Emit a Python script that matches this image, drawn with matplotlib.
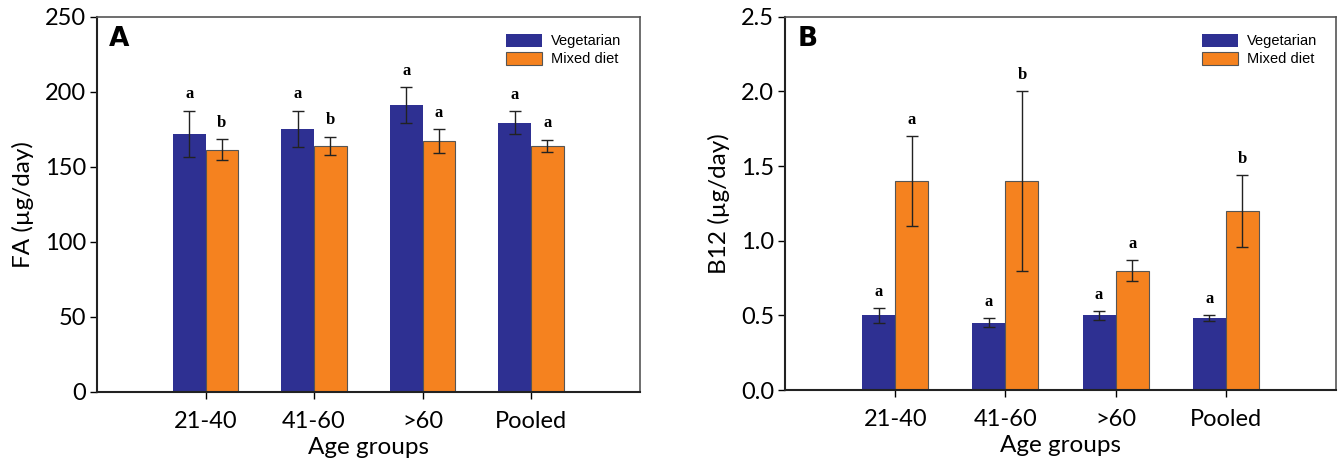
import matplotlib.pyplot as plt
import numpy as np

# Daten
groups = ['21-40', '41-60', '>60', 'Pooled']
labels = ['Vegetarian', 'Mixed diet']

fa_veg = [172, 175.5, 191, 179.5]
fa_veg_err = [15.5, 12, 12, 7.5]
fa_mix = [161.5, 164, 167, 164]
fa_mix_err = [7, 6, 8, 4]
fa_veg_letters = ['a', 'a', 'a', 'a']
fa_mix_letters = ['b', 'b', 'a', 'a']

b12_veg = [0.50, 0.45, 0.50, 0.48]
b12_veg_err = [0.05, 0.03, 0.03, 0.02]
b12_mix = [1.40, 1.40, 0.80, 1.20]
b12_mix_err = [0.30, 0.60, 0.07, 0.24]
b12_veg_letters = ['a', 'a', 'a', 'a']
b12_mix_letters = ['a', 'b', 'a', 'b']

blue = '#2e3092'
orange = '#f5821f'
tick_font = 'Lato'


def panel(ax, veg, veg_err, mix, mix_err, veg_let, mix_let, ylim, yticks, ylabel, tag):
    x = np.arange(len(groups))
    w = 0.3
    ekw = dict(ecolor='#222222', elinewidth=1.0, capsize=4.5, capthick=1.0)
    ax.bar(x - w / 2, veg, w, yerr=veg_err, color=blue, label=labels[0],
           error_kw=ekw, zorder=2)
    ax.bar(x + w / 2, mix, w, yerr=mix_err, color=orange, edgecolor='#555555',
           linewidth=0.8, label=labels[1], error_kw=ekw, zorder=2)
    for xi, v, e, t in zip(x - w / 2, veg, veg_err, veg_let):
        ax.annotate(t, (xi, v + e), xytext=(0, 6), textcoords='offset points',
                    ha='center', va='bottom', fontsize=12, fontweight='bold',
                    family='Liberation Serif')
    for xi, v, e, t in zip(x + w / 2, mix, mix_err, mix_let):
        ax.annotate(t, (xi, v + e), xytext=(0, 6), textcoords='offset points',
                    ha='center', va='bottom', fontsize=12, fontweight='bold',
                    family='Liberation Serif')
    ax.set_xlim(-1, 4)
    ax.set_ylim(*ylim)
    ax.set_yticks(yticks)
    ax.set_xticks(x)
    ax.set_xticklabels(groups)
    for lab in ax.get_xticklabels() + ax.get_yticklabels():
        lab.set_fontfamily(tick_font)
        lab.set_fontsize(17)
    ax.tick_params(axis='both', direction='out', length=5, width=1, pad=3)
    ax.tick_params(axis='x', pad=9)
    ax.set_xlabel('Age groups', fontsize=17.5, family=tick_font, labelpad=3)
    ax.set_ylabel(ylabel, fontsize=17.5, family=tick_font, labelpad=8)
    for s in ['left', 'bottom']:
        ax.spines[s].set_color('#222222')
        ax.spines[s].set_linewidth(1.5)
    for s in ['top', 'right']:
        ax.spines[s].set_color('#555555')
        ax.spines[s].set_linewidth(1.2)
    ax.text(0.022, 0.94, tag, transform=ax.transAxes, fontsize=19,
            fontweight='bold', family='DejaVu Sans', va='center', ha='left')
    ax.legend(loc='upper right', bbox_to_anchor=(0.99, 0.99), frameon=False,
              prop={'family': 'Liberation Sans', 'size': 10.5},
              handlelength=2.5, handleheight=1.0, handletextpad=0.6,
              labelspacing=0.25)


fig = plt.figure(figsize=(13.38, 4.66), dpi=100)
ax1 = fig.add_axes([0.0725, 0.159, 0.4055, 0.805])
ax2 = fig.add_axes([0.5867, 0.163, 0.4118, 0.801])

panel(ax1, fa_veg, fa_veg_err, fa_mix, fa_mix_err, fa_veg_letters, fa_mix_letters,
      (0, 250), [0, 50, 100, 150, 200, 250], 'FA (µg/day)', 'A')
panel(ax2, b12_veg, b12_veg_err, b12_mix, b12_mix_err, b12_veg_letters, b12_mix_letters,
      (0, 2.5), [0.0, 0.5, 1.0, 1.5, 2.0, 2.5], 'B12 (µg/day)', 'B')
ax2.set_yticklabels(['0.0', '0.5', '1.0', '1.5', '2.0', '2.5'], family=tick_font, fontsize=17)

fig.savefig('out.png', dpi=100)
